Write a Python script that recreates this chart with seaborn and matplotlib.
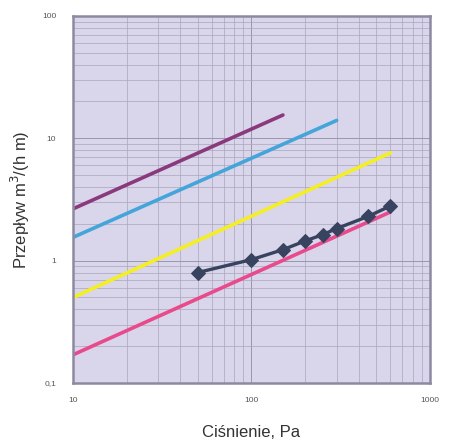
import numpy as np
import pandas as pd
import matplotlib
matplotlib.use("Agg")
import matplotlib.pyplot as plt
import matplotlib.ticker as mticker
import seaborn as sns

# -----------------------------------
# Data
# -----------------------------------
purple_x = [10, 150]
purple_y = [2.65, 15.5]

blue_x = [10, 300]
blue_y = [1.55, 14.0]

yellow_x = [10, 600]
yellow_y = [0.5, 7.6]

pink_x = [10, 600]
pink_y = [0.17, 2.5]

meas_x = [50, 100, 150, 200, 250, 300, 450, 600]
meas_y = [0.80, 1.02, 1.23, 1.45, 1.63, 1.83, 2.3, 2.8]

x_ticks = [10, 100, 1000]
x_labels = ["10", "100", "1000"]
y_ticks = [0.1, 1, 10, 100]
y_labels = ["0,1", "1", "10", "100"]

# -----------------------------------
# Style
# -----------------------------------
sns.set_style("white", {"axes.facecolor": "#d9d5ea", "axes.edgecolor": "#8c8aa3"})
plt.rcParams["font.family"] = ["Liberation Sans", "DejaVu Sans"]

fig = plt.figure(figsize=(4.56, 4.43), dpi=100)
ax = fig.add_axes([0.160, 0.1354, 0.783, 0.8286])

# -----------------------------------
# Lines
# -----------------------------------
series = [
    (purple_x, purple_y, "#8a3a7c"),
    (blue_x, blue_y, "#43a5d9"),
    (yellow_x, yellow_y, "#f4ef24"),
    (pink_x, pink_y, "#e84a8c"),
]

for xs, ys, col in series:
    df = pd.DataFrame({"x": xs, "y": ys})
    sns.lineplot(data=df, x="x", y="y", color=col, linewidth=2.6,
                 ax=ax, solid_capstyle="round")

meas = pd.DataFrame({"x": meas_x, "y": meas_y})
sns.lineplot(
    data=meas, x="x", y="y",
    color="#37435f",
    linewidth=2.4,
    marker="D",
    markersize=7,
    markeredgecolor="#37435f",
    ax=ax
)

# -----------------------------------
# Axes
# -----------------------------------
ax.set_xscale("log")
ax.set_yscale("log")
ax.set_xlim(10, 1000)
ax.set_ylim(0.1, 100)

ax.set_xticks(x_ticks)
ax.set_xticklabels(x_labels)
ax.set_yticks(y_ticks)
ax.set_yticklabels(y_labels)
ax.xaxis.set_minor_locator(mticker.LogLocator(base=10, subs=np.arange(2, 10)))
ax.yaxis.set_minor_locator(mticker.LogLocator(base=10, subs=np.arange(2, 10)))
ax.xaxis.set_minor_formatter(mticker.NullFormatter())
ax.yaxis.set_minor_formatter(mticker.NullFormatter())

ax.grid(which="major", color="#9a96ad", linewidth=0.7)
ax.grid(which="minor", color="#a9a5bc", linewidth=0.5)
ax.set_axisbelow(True)

ax.tick_params(axis="both", which="both", length=0, labelsize=6,
               labelcolor="#555555")
ax.tick_params(axis="x", pad=10)
ax.tick_params(axis="y", pad=12)

for sp in ax.spines.values():
    sp.set_linewidth(1.8)

ax.set_xlabel("Ciśnienie, Pa", fontsize=12, color="#333333", va="center")
ax.set_ylabel("Przepływ m$^3$/(h m)", fontsize=12, color="#333333", va="center")
ax.xaxis.set_label_coords(0.5, -0.134)
ax.yaxis.set_label_coords(-0.147, 0.5)

plt.savefig("out.png", dpi=100)
